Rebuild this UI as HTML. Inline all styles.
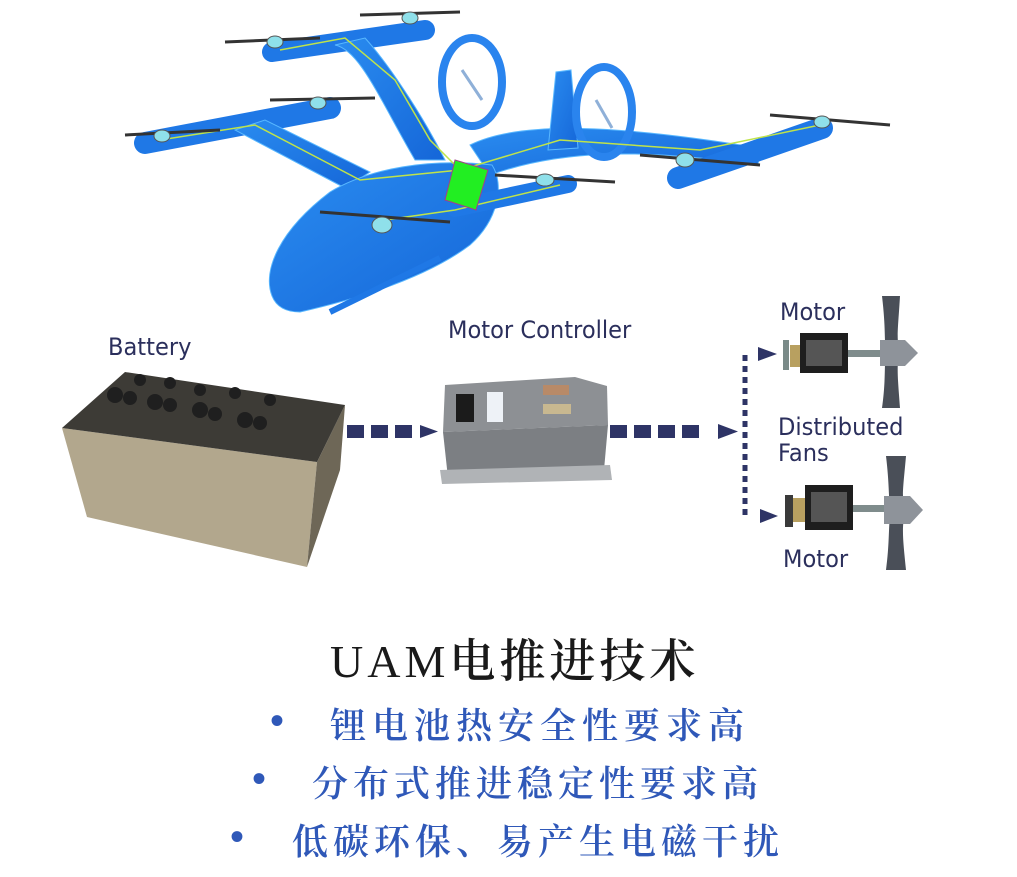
<!DOCTYPE html>
<html><head><meta charset="utf-8"><style>
html,body{margin:0;padding:0;background:#fff;}
body{width:1017px;height:877px;position:relative;overflow:hidden;}
.lab{position:absolute;font-family:"DejaVu Sans","Liberation Sans",sans-serif;color:#2b2f5c;font-size:24px;line-height:25px;transform:scaleX(0.94);transform-origin:left top;white-space:nowrap;}
.cn{position:absolute;font-family:"Liberation Serif","Noto Serif CJK SC",serif;white-space:nowrap;font-weight:600;}
</style></head><body>
<svg width="1017" height="877" style="position:absolute;left:0;top:0">
<defs>
<linearGradient id="bl" x1="0" y1="0" x2="1" y2="1"><stop offset="0" stop-color="#2a8cf0"/><stop offset="1" stop-color="#1566d8"/></linearGradient>
</defs>
<g fill="url(#bl)" stroke="#59b8ff" stroke-width="1">
<line x1="272" y1="52" x2="425" y2="30" stroke="#1f78e6" stroke-width="20" stroke-linecap="round"/>
<path d="M335 45 C360 50 380 100 415 160 L445 160 C420 110 385 60 365 38 Z"/>
<line x1="145" y1="143" x2="330" y2="108" stroke="#1f78e6" stroke-width="22" stroke-linecap="round"/>
<path d="M235 130 L265 120 L370 172 L345 188 Z"/>
<path d="M470 145 C520 120 620 125 760 148 L758 165 C640 148 560 150 490 175 Z"/>
<line x1="678" y1="178" x2="822" y2="128" stroke="#1f78e6" stroke-width="22" stroke-linecap="round"/>
<path d="M548 150 L556 72 L571 70 L578 148 Z"/>
<ellipse cx="472" cy="82" rx="30" ry="44" fill="none" stroke="#2a84ee" stroke-width="8"/>
<ellipse cx="604" cy="112" rx="28" ry="45" fill="none" stroke="#2a84ee" stroke-width="8"/>
<line x1="462" y1="70" x2="482" y2="100" stroke="#8fb0d8" stroke-width="3"/>
<line x1="596" y1="100" x2="612" y2="128" stroke="#8fb0d8" stroke-width="3"/>
<path d="M272 296 C262 270 280 230 330 192 C370 168 430 158 492 165 C505 185 498 220 470 245 C430 275 370 296 300 312 C285 312 276 306 272 296 Z"/>
<line x1="455" y1="208" x2="568" y2="184" stroke="#1f78e6" stroke-width="18" stroke-linecap="round"/>
<path d="M330 312 L440 258" stroke="#1f78e6" stroke-width="6" fill="none"/>
</g>
<g stroke="#bfe34a" stroke-width="1.5" fill="none">
<polyline points="160,140 255,125 360,180 460,170 560,140 700,150 820,125"/>
<polyline points="280,50 345,38 395,80 430,140 465,175"/>
<polyline points="385,220 455,210 560,185"/>
</g>
<polygon points="455,160 488,170 476,210 445,200" fill="#22ee22" stroke="#a0408a" stroke-width="1"/>
<g stroke="#333" stroke-width="3">
<line x1="225" y1="42" x2="320" y2="38"/><line x1="360" y1="15" x2="460" y2="12"/>
<line x1="125" y1="135" x2="220" y2="130"/><line x1="270" y1="100" x2="375" y2="98"/>
<line x1="320" y1="212" x2="450" y2="222"/><line x1="495" y1="175" x2="615" y2="182"/>
<line x1="640" y1="155" x2="760" y2="165"/><line x1="770" y1="115" x2="890" y2="125"/>
</g>
<g fill="#8fe0ea" stroke="#555">
<ellipse cx="275" cy="42" rx="8" ry="6"/><ellipse cx="410" cy="18" rx="8" ry="6"/>
<ellipse cx="162" cy="136" rx="8" ry="6"/><ellipse cx="318" cy="103" rx="8" ry="6"/>
<ellipse cx="382" cy="225" rx="10" ry="8"/><ellipse cx="545" cy="180" rx="9" ry="6"/>
<ellipse cx="685" cy="160" rx="9" ry="7"/><ellipse cx="822" cy="122" rx="8" ry="6"/>
</g>
<polygon points="62,428 317,462 307,567 87,517" fill="#b2a78d"/>
<polygon points="317,462 345,405 340,470 307,567" fill="#6e6757"/>
<polygon points="62,428 125,372 345,405 317,462" fill="#3d3b36"/>
<g fill="#1f1f1f">
<circle cx="115" cy="395" r="8"/><circle cx="130" cy="398" r="7"/><circle cx="155" cy="402" r="8"/><circle cx="170" cy="405" r="7"/>
<circle cx="200" cy="410" r="8"/><circle cx="215" cy="414" r="7"/><circle cx="245" cy="420" r="8"/><circle cx="260" cy="423" r="7"/>
<circle cx="140" cy="380" r="6"/><circle cx="170" cy="383" r="6"/><circle cx="200" cy="390" r="6"/><circle cx="235" cy="393" r="6"/><circle cx="270" cy="400" r="6"/>
</g>
<polygon points="445,385 575,377 607,386 608,425 443,432" fill="#8d9094"/>
<polygon points="443,432 608,425 604,470 448,478" fill="#7c7f83"/>
<polygon points="440,470 610,465 612,480 442,484" fill="#b0b3b6"/>
<rect x="456" y="394" width="18" height="28" fill="#1b1b1b"/>
<rect x="487" y="392" width="16" height="30" fill="#eef2f7"/>
<rect x="543" y="385" width="26" height="10" fill="#b88a68"/>
<rect x="543" y="404" width="28" height="10" fill="#c8b890"/>
<g fill="#2e3466">
<rect x="347" y="425" width="17" height="13"/><rect x="371" y="425" width="17" height="13"/><rect x="395" y="425" width="17" height="13"/>
<polygon points="420,425 438,431.5 420,438"/>
<rect x="610" y="425" width="17" height="13"/><rect x="634" y="425" width="17" height="13"/><rect x="658" y="425" width="17" height="13"/><rect x="682" y="425" width="17" height="13"/>
<polygon points="718,424 738,431.5 718,439"/>
<polygon points="758,347 777,354 758,361"/>
<polygon points="760,509 778,516 760,523"/>
</g>
<line x1="745" y1="355" x2="745" y2="518" stroke="#2e3466" stroke-width="5" stroke-dasharray="6,5"/>
<g>
<rect x="783" y="340" width="6" height="30" fill="#7a8a88"/>
<rect x="790" y="345" width="12" height="22" fill="#b8a060"/>
<rect x="800" y="333" width="48" height="40" fill="#1e1e1e"/>
<rect x="806" y="340" width="36" height="26" fill="#555"/>
<rect x="848" y="350" width="34" height="7" fill="#7f8c8c"/>
<path d="M882 296 L900 296 C898 330 896 340 900 350 C896 365 898 380 900 408 L882 408 C886 380 884 365 886 350 C884 340 886 330 882 296Z" fill="#4a4f58"/>
<polygon points="880,340 905,340 918,353 905,366 880,366" fill="#8e939a"/>
<rect x="785" y="495" width="8" height="32" fill="#3a3a3a"/>
<rect x="793" y="498" width="14" height="24" fill="#b8a060"/>
<rect x="805" y="485" width="48" height="45" fill="#1e1e1e"/>
<rect x="811" y="492" width="36" height="30" fill="#555"/>
<rect x="853" y="505" width="32" height="7" fill="#7f8c8c"/>
<path d="M886 456 L906 456 C903 490 901 500 906 510 C901 525 903 540 906 570 L886 570 C890 540 888 525 891 510 C888 500 890 490 886 456Z" fill="#4a4f58"/>
<polygon points="884,496 910,496 923,510 910,524 884,524" fill="#8e939a"/>
</g>
</svg>
<div class="lab" style="left:108px;top:335px;">Battery</div>
<div class="lab" style="left:448px;top:318px;">Motor Controller</div>
<div class="lab" style="left:780px;top:300px;">Motor</div>
<div class="lab" style="left:778px;top:414px;line-height:26px;">Distributed<br>Fans</div>
<div class="lab" style="left:783px;top:547px;">Motor</div>
<div class="cn" style="left:330px;top:625px;font-size:46px;color:#1a1a1a;letter-spacing:4px;"><span style="font-weight:400">UAM</span>电推进技术</div>
<div class="cn" style="left:270px;top:697px;font-size:40px;color:#2f58b8;">•</div>
<div class="cn" style="left:330px;top:698px;font-size:36px;color:#2f58b8;letter-spacing:6px;">锂电池热安全性要求高</div>
<div class="cn" style="left:252px;top:755px;font-size:40px;color:#2f58b8;">•</div>
<div class="cn" style="left:312px;top:756px;font-size:36px;color:#2f58b8;letter-spacing:5px;">分布式推进稳定性要求高</div>
<div class="cn" style="left:230px;top:813px;font-size:40px;color:#2f58b8;">•</div>
<div class="cn" style="left:292px;top:814px;font-size:36px;color:#2f58b8;letter-spacing:5px;">低碳环保、易产生电磁干扰</div>
</body></html>
